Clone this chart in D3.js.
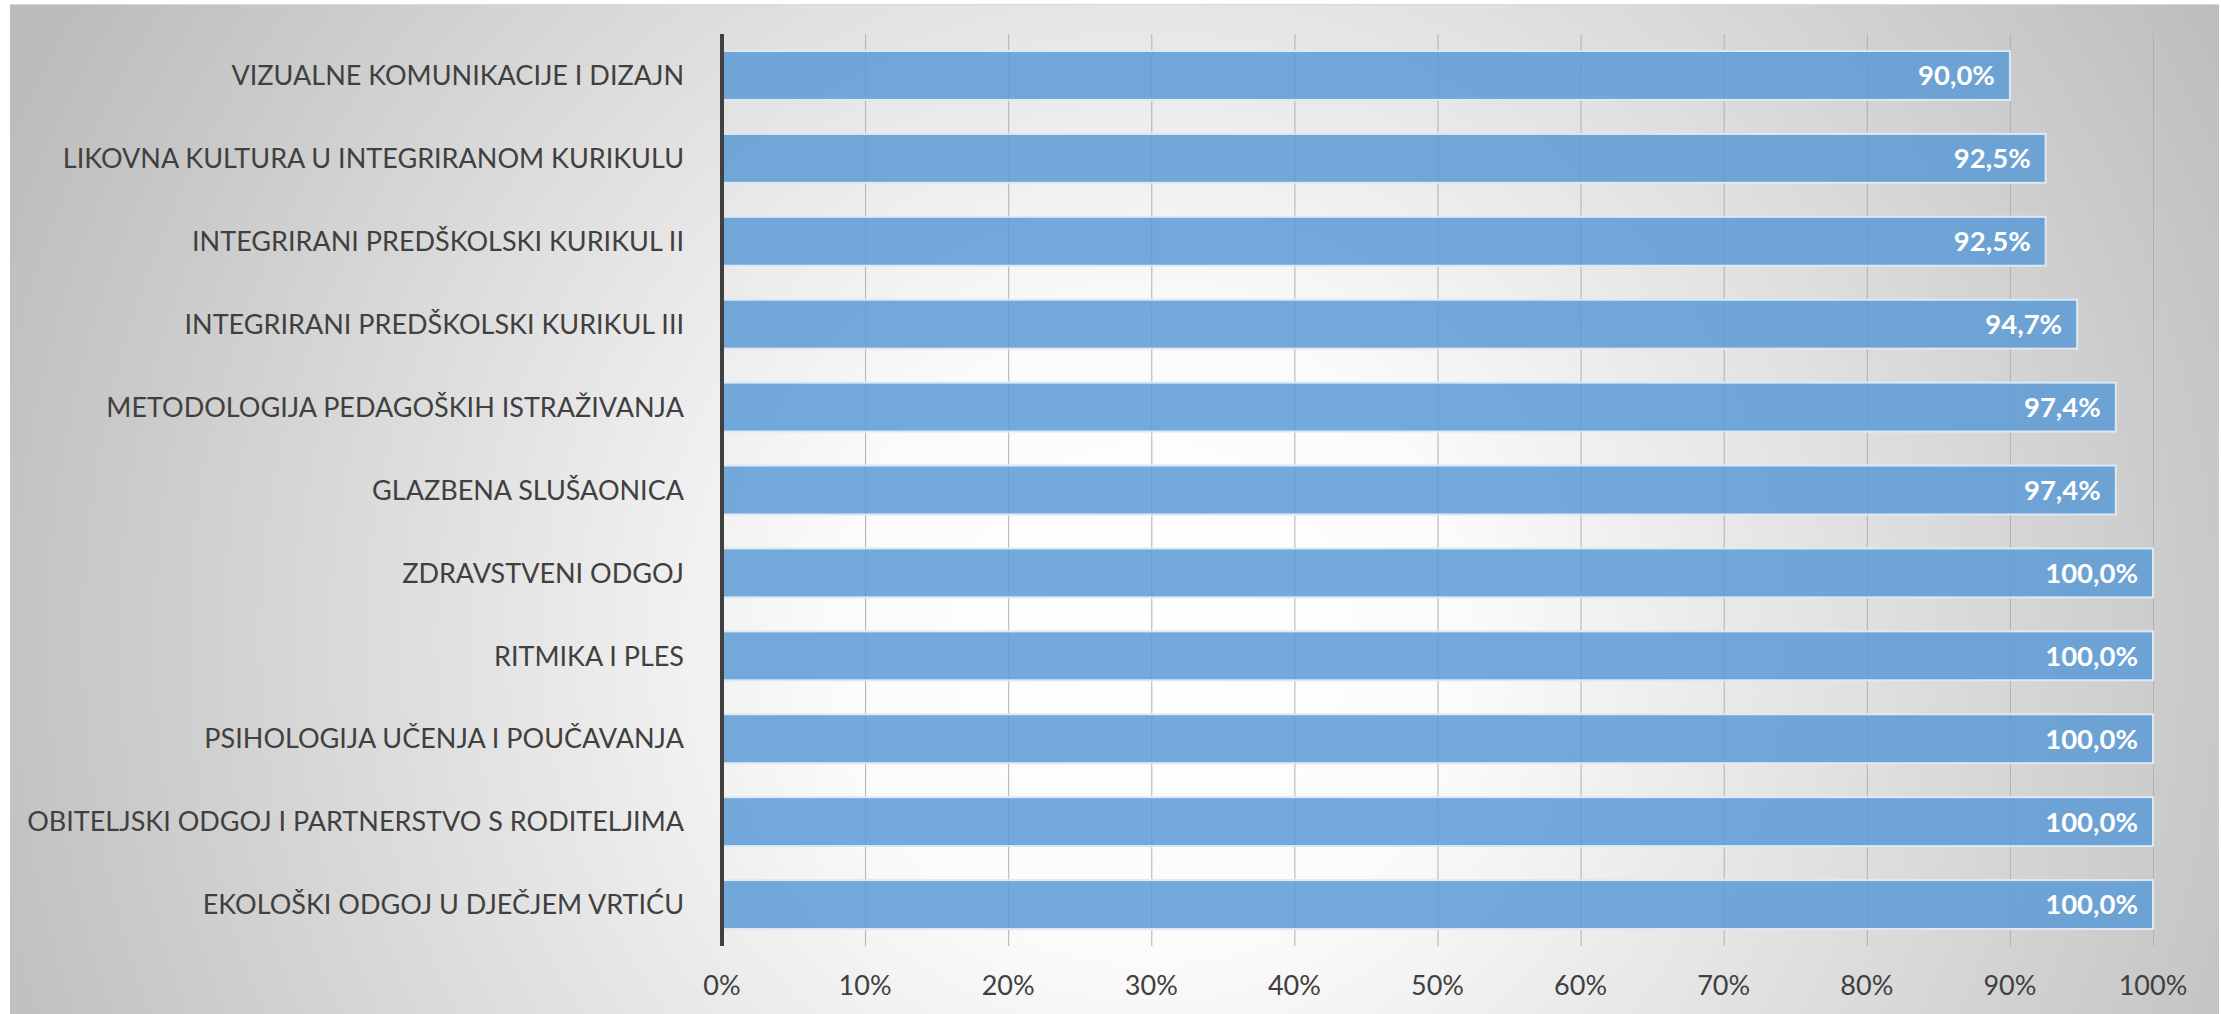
<!DOCTYPE html>
<html>
<head>
<meta charset="utf-8">
<script src="https://cdn.jsdelivr.net/npm/d3@7"></script>
<style>
  body { margin: 0; background: #fff; }
  svg { display: block; }
</style>
</head>
<body>
<svg id="chart" width="2221" height="1014"></svg>
<script>
let categories = [
    'VIZUALNE KOMUNIKACIJE I DIZAJN',
    'LIKOVNA KULTURA U INTEGRIRANOM KURIKULU',
    'INTEGRIRANI PREDŠKOLSKI KURIKUL II',
    'INTEGRIRANI PREDŠKOLSKI KURIKUL III',
    'METODOLOGIJA PEDAGOŠKIH ISTRAŽIVANJA',
    'GLAZBENA SLUŠAONICA',
    'ZDRAVSTVENI ODGOJ',
    'RITMIKA I PLES',
    'PSIHOLOGIJA UČENJA I POUČAVANJA',
    'OBITELJSKI ODGOJ I PARTNERSTVO S RODITELJIMA',
    'EKOLOŠKI ODGOJ U DJEČJEM VRTIĆU'
]
let values = [90.0, 92.5, 92.5, 94.7, 97.4, 97.4, 100.0, 100.0, 100.0, 100.0, 100.0]
let ticks = [0, 10, 20, 30, 40, 50, 60, 70, 80, 90, 100]

let svg = d3.select('#chart')
let W = 2221, H = 1014
let xpad_l = 722, xpad_r = W - 2153
let ypad_t = 34, ypad_b = H - 946

// radial background like the office preset
let defs = svg.append('defs')
let grad = defs.append('radialGradient')
    .attr('id', 'bg')
    .attr('gradientUnits', 'userSpaceOnUse')
    .attr('cx', 1150).attr('cy', 640).attr('r', 1250)
grad.append('stop').attr('offset', '0%').attr('stop-color', '#ffffff')
grad.append('stop').attr('offset', '25%').attr('stop-color', '#fbfbfb')
grad.append('stop').attr('offset', '100%').attr('stop-color', '#bcbcbc')

svg.append('rect')
    .attr('x', 10).attr('y', 4)
    .attr('width', W - 12).attr('height', H - 4)
    .attr('fill', 'url(#bg)')
svg.append('line')
    .attr('x1', 10).attr('x2', W - 2)
    .attr('y1', 4.5).attr('y2', 4.5)
    .attr('stroke', '#d9d9d9').attr('stroke-width', 1)

let xScale = d3.scaleLinear()
    .domain([0, 100])
    .range([xpad_l, W - xpad_r])

let yScale = d3.scaleBand()
    .domain(categories)
    .range([ypad_t, H - ypad_b])
    .paddingInner(0.41)
    .paddingOuter(0.205)

// gridlines
svg.append('g')
    .selectAll('line')
    .data(ticks.slice(1))
    .join('line')
    .attr('x1', d => xScale(d) + 0.5).attr('x2', d => xScale(d) + 0.5)
    .attr('y1', ypad_t).attr('y2', H - ypad_b)
    .attr('stroke', '#b0b0b0').attr('stroke-width', 1)

// bars
svg.append('g')
    .selectAll('rect')
    .data(values)
    .join('rect')
    .attr('x', xScale(0))
    .attr('y', (d, i) => yScale(categories[i]))
    .attr('width', d => xScale(d) - xScale(0))
    .attr('height', yScale.bandwidth())
    .attr('fill', '#5b9bd5')
    .attr('fill-opacity', 0.85)
    .attr('stroke', '#dce9f5')
    .attr('stroke-width', 2)

// value labels
svg.append('g')
    .selectAll('text')
    .data(values)
    .join('text')
    .attr('x', d => xScale(d) - 15)
    .attr('y', (d, i) => yScale(categories[i]) + yScale.bandwidth() / 2)
    .attr('dy', '0.36em')
    .attr('text-anchor', 'end')
    .attr('font-family', 'Lato, sans-serif')
    .attr('font-weight', 'bold')
    .attr('font-size', 27.5)
    .attr('fill', '#ffffff')
    .text(d => d.toFixed(1).replace('.', ',') + '%')

// category labels
svg.append('g')
    .selectAll('text')
    .data(categories)
    .join('text')
    .attr('x', xpad_l - 38)
    .attr('y', d => yScale(d) + yScale.bandwidth() / 2)
    .attr('dy', '0.36em')
    .attr('text-anchor', 'end')
    .attr('font-family', 'Lato, sans-serif')
    .attr('font-size', 27)
    .attr('fill', '#404040')
    .text(d => d)

// x tick labels
svg.append('g')
    .selectAll('text')
    .data(ticks)
    .join('text')
    .attr('x', d => xScale(d))
    .attr('y', 985)
    .attr('dy', '0.36em')
    .attr('text-anchor', 'middle')
    .attr('font-family', 'Lato, sans-serif')
    .attr('font-size', 27)
    .attr('fill', '#404040')
    .text(d => d + '%')

// vertical axis line
svg.append('line')
    .attr('x1', xpad_l).attr('x2', xpad_l)
    .attr('y1', ypad_t).attr('y2', H - ypad_b)
    .attr('stroke', '#404040').attr('stroke-width', 4)
</script>
</body>
</html>
